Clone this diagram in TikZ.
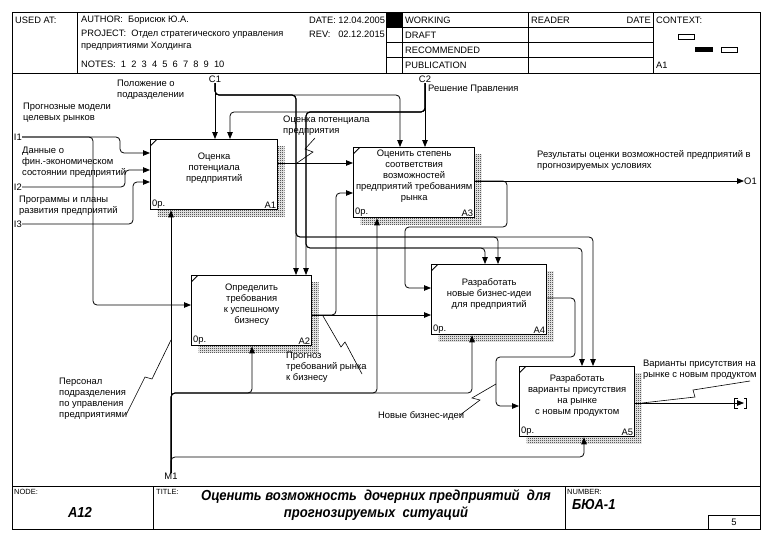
\documentclass[tikz,border=0pt]{standalone}
\usepackage{fontspec}
\setmainfont{Liberation Sans}
\newfontfamily\narrowfont[FakeStretch=0.9]{Liberation Sans}
\usetikzlibrary{arrows.meta,patterns,positioning}
\pgfdeclarepatternformonly{finedots}{\pgfpointorigin}{\pgfpoint{2pt}{2pt}}{\pgfpoint{2pt}{2pt}}%
  {\pgfpathrectangle{\pgfpointorigin}{\pgfpoint{1pt}{1pt}}%
   \pgfpathrectangle{\pgfpoint{1pt}{1pt}}{\pgfpoint{1pt}{1pt}}\pgfusepath{fill}}

\begin{document}
\begin{tikzpicture}[x=1pt,y=-1pt,
  every node/.style={font=\fontsize{9.4}{11}\selectfont, inner sep=0pt},
  hdr/.style={font=\fontsize{9.3}{12}\selectfont, anchor=west},
  small/.style={font=\fontsize{7.5}{9}\selectfont, anchor=west},
  big/.style={font=\narrowfont\bfseries\itshape\fontsize{14.5}{16.5}\selectfont},
  lbl/.style={anchor=north west, align=left},
  txt/.style={align=center},
  corner/.style={inner sep=2pt},
  act/.style n args={2}{draw, fill=white, line width=1.3pt, anchor=north west,
    minimum width=#1, minimum height=70pt,
    preaction={draw=none, pattern=finedots,
      transform canvas={xshift=7pt, yshift=-7pt}},
    path picture={\draw[line width=0.8pt] ([yshift=-6pt]path picture bounding box.north west)
      -- ([xshift=6pt]path picture bounding box.north west);},
    label={[corner, anchor=south west]south west:0р.},
    label={[corner, anchor=south east]south east:#2}},
  flow/.style={draw, line width=0.8pt, rounded corners=4pt,
    -{Triangle[length=7pt, width=5.5pt]}},
  squig/.style={draw, line width=0.6pt}]

\useasboundingbox (0,0) rectangle (779,551);

% form
\draw[line width=1pt] (12,13) rectangle (760,529);
\draw (12,73) -- (760,73);
\draw (77,13) -- (77,73);
\draw (386,13) -- (386,73);
\draw (402,13) -- (402,73);
\draw (528,13) -- (528,73);
\draw (653,13) -- (653,73);
\draw (386,27.5) -- (653,27.5);
\draw (386,42.5) -- (653,42.5);
\draw (386,57.5) -- (653,57.5);
\fill (386,13) rectangle (402,27.5);
\draw (678,34) rectangle (694,39);
\fill (695,47) rectangle (713,52);
\draw (721,47) rectangle (737,52);
\draw (12,486) -- (760,486);
\draw (153,486) -- (153,529);
\draw (565,486) -- (565,529);
\draw (708,515) rectangle (760,529);

\node[hdr] (usedat) at (15,20) {USED AT:};
\node[hdr] (author) at (81,20) {AUTHOR:~~Борисюк Ю.А.};
\node[hdr] (project) at (81,34.5) {PROJECT:~~Отдел стратегического управления};
\node[hdr] (project2) at (81,46.5) {предприятиями Холдинга};
\node[hdr] (notes) at (81,64) {NOTES:~~1~~2~~3~~4~~5~~6~~7~~8~~9~~10};
\node[hdr] (date) at (309,20) {DATE: 12.04.2005};
\node[hdr] (rev) at (309,34.5) {REV:~~~02.12.2015};
\node[hdr] (working) at (405,20) {WORKING};
\node[hdr] (draft) at (405,35) {DRAFT};
\node[hdr] (recom) at (405,50) {RECOMMENDED};
\node[hdr] (publ) at (405,65) {PUBLICATION};
\node[hdr] (reader) at (531,20) {READER};
\node[hdr, anchor=east] (rdate) at (651,20) {DATE};
\node[hdr] (context) at (656,20) {CONTEXT:};
\node[hdr] (ctxa) at (656,65) {A1};

\node[small] (nodel) at (14,492) {NODE:};
\node[small] (titlel) at (156,492) {TITLE:};
\node[small] (numberl) at (567,492) {NUMBER:};
\node[big] (nodeno) at (80,512) {A12};
\node[big, align=center] (title) at (376,505)
  {Оценить возможность~~дочерних предприятий~~для\\прогнозируемых~~ситуаций};
\node[big, anchor=west] (number) at (572,505) {БЮА-1};
\node (page) at (734,522) {5};

% activities
\node[act={127pt}{A1}] (A1) at (150,139) {};
\node[act={121pt}{A3}] (A3) at (353,147) {};
\node[act={120pt}{A2}] (A2) at (191,275) {};
\node[act={115pt}{A4}] (A4) at (431,264) {};
\node[act={115pt}{A5}] (A5) at (519,366) {};
\node[txt] (A1t) at ([yshift=6pt]A1.center) {Оценка\\потенциала\\предприятий};
\node[txt] (A3t) at ([yshift=6pt]A3.center) {Оценить степень\\соответствия\\возможностей\\предприятий требованиям\\рынка};
\node[txt] (A2t) at ([yshift=6pt]A2.center) {Определить\\требования\\к успешному\\бизнесу};
\node[txt] (A4t) at ([yshift=6pt]A4.center) {Разработать\\новые бизнес-идеи\\для предприятий};
\node[txt] (A5t) at ([yshift=6pt]A5.center) {Разработать\\варианты присутствия\\на рынке\\с новым продуктом};

% boundary arrows
\node[anchor=east] (I1) at (22,137) {I1};
\node[anchor=east] (I2) at (22,187) {I2};
\node[anchor=east] (I3) at (22,224) {I3};
\node[anchor=south] (C1) at (215,83) {C1};
\node[anchor=south] (C2) at (425,83) {C2};
\node[anchor=west] (O1) at (744,181) {O1};
\node[anchor=north] (M1) at (171,473) {M1};

\path[flow] (I1.east) -- (120,137) -- (120,153) -- (A1.west |- 0,153);
\path[flow] (I1.east) -- (93,137) -- (93,305) -- (A2.west |- 0,305);
\path[flow] (I2.east) -- (125,187) -- (125,170) -- (A1.west |- 0,170);
\path[flow] (I3.east) -- (133,224) -- (133,182) -- (A1.west |- 0,182);

\path[flow] (C1.south) -- (C1.south |- A1.north);
\path[flow] (C1.south) -- (215,95) -- (400,95) -- (A3.north -| 400,0);
\path[flow] (C1.south) -- (215,95) -- (296,95) -- (A2.north -| 296,0);
\path[flow] (C1.south) -- (215,95) -- (296,95) -- (296,237) -- (498,237) -- (A4.north -| 498,0);
\path[flow] (C1.south) -- (215,95) -- (296,95) -- (296,237) -- (593,237) -- (A5.north -| 593,0);
\path[flow] (C2.south) -- (C2.south |- A3.north);
\path[flow] (C2.south) -- (425,112) -- (230,112) -- (A1.north -| 230,0);
\path[flow] (C2.south) -- (425,112) -- (306,112) -- (A2.north -| 306,0);
\path[flow] (C2.south) -- (425,112) -- (306,112) -- (306,248) -- (485,248) -- (A4.north -| 485,0);
\path[flow] (C2.south) -- (425,112) -- (306,112) -- (306,248) -- (582,248) -- (A5.north -| 582,0);

\path[flow] (A1.east |- 0,163) -- (A3.west |- 0,163);
\path[flow] (A3.east |- 0,181) -- (O1.west);
\path[flow] (A3.east |- 0,181) -- (507,181) -- (507,227) -- (405,227) -- (405,288) -- (A4.west |- 0,288);
\path[flow] (A2.east |- 0,315) -- (A4.west |- 0,315);
\path[flow] (A2.east |- 0,315) -- (336,315) -- (336,193) -- (A3.west |- 0,193);
\path[flow] (A4.east |- 0,298) -- (575,298) -- (575,357) -- (496,357) -- (496,406) -- (A5.west |- 0,406);
\coordinate (tunnel) at (744,403);
\path[flow] (A5.east |- 0,403) -- (tunnel);
\draw (tunnel) ++(-6,-5) -- ++(-4,0) -- ++(0,10) -- ++(4,0);
\draw (tunnel) ++(0,-5) -- ++(2,0) -- ++(0,10) -- ++(-2,0);

\path[flow] (M1.north) -- (M1.north |- A1.south);
\path[flow] (M1.north) -- (171,393) -- (252,393) -- (A2.south -| 252,0);
\path[flow] (M1.north) -- (171,393) -- (377,393) -- (A3.south -| 377,0);
\path[flow] (M1.north) -- (171,393) -- (472,393) -- (A4.south -| 472,0);
\path[flow] (M1.north) -- (171,457) -- (584,457) -- (A5.south -| 584,0);

% arrow labels
\node[lbl] (lI1) at (23,103) {Прогнозные модели\\целевых рынков};
\node[lbl] (lI2) at (22,147) {Данные о\\фин.-экономическом\\состоянии предприятий};
\node[lbl] (lI3) at (19,196) {Программы и планы\\развития предприятий};
\node[lbl] (lC1) at (117,80) {Положение о\\подразделении};
\node[lbl] (lC2) at (428,85) {Решение Правления};
\node[lbl] (lA1) at (283,116) {Оценка потенциала\\предприятия};
\node[lbl] (lO1) at (537,150) {Результаты оценки возможностей предприятий в\\прогнозируемых условиях};
\node[lbl] (lA2) at (286,352) {Прогноз\\требований рынка\\к бизнесу};
\node[lbl] (lM1) at (59,378) {Персонал\\подразделения\\по управления\\предприятиями};
\node[lbl] (lA4) at (378,411) {Новые бизнес-идеи};
\node[lbl] (lA5) at (643,360) {Варианты присутствия на\\рынке с новым продуктом};

\path[squig] (315,138) -- (305,149) -- (313,152) -- (297,163);
\path[squig] (323,316) -- (341,347) -- (345,342) -- (362,374);
\path[squig] (126,415) -- (145,377) -- (152,379) -- (171,340);
\path[squig] (460,415) -- (480,400) -- (472,398) -- (496,384);
\path[squig] (642,403) -- (695,397) -- (693,390) -- (750,381);

\end{tikzpicture}
\end{document}
